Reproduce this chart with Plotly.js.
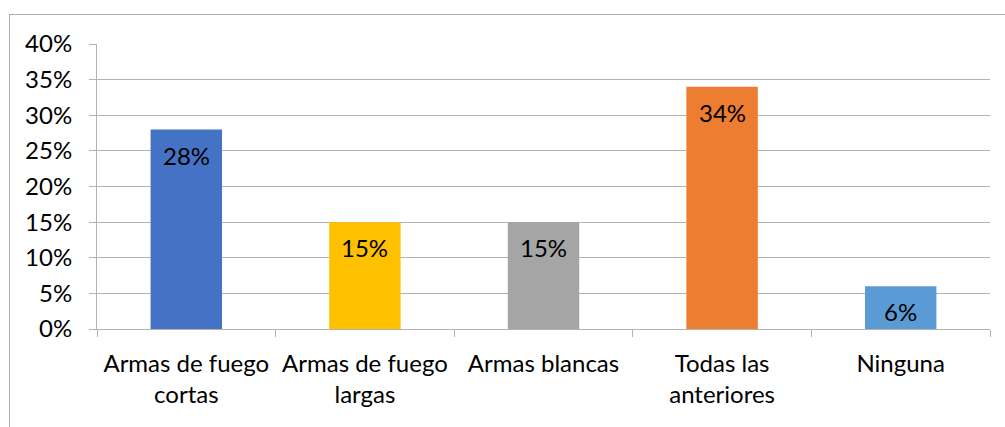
<!DOCTYPE html>
<html>
<head>
<meta charset="utf-8">
<script src="https://cdn.plot.ly/plotly-3.0.1.min.js"></script>
<style>
html,body{margin:0;padding:0;background:#fff;}
#wrap{position:relative;width:1005px;height:427px;overflow:hidden;}
#frame{position:absolute;left:9px;top:14px;width:1100px;height:500px;border-left:1px solid #b0b0b0;border-top:1px solid #b0b0b0;pointer-events:none;}
#chart{position:absolute;left:0;top:0;width:1005px;height:427px;}
</style>
</head>
<body>
<div id="wrap"><div id="chart"></div><div id="frame"></div></div>
<script>
const categories = ["Armas de fuego<br>cortas", "Armas de fuego<br>largas", "Armas blancas", "Todas las<br>anteriores", "Ninguna"];
const values = [28, 15, 15, 34, 6];
const labels = ["28%", "15%", "15%", "34%", "6%"];
const colors = ["#4472C4", "#FFC000", "#A5A5A5", "#ED7D31", "#5B9BD5"];
const yTicks = [0, 5, 10, 15, 20, 25, 30, 35, 40];

const FONT = "Lato, 'Noto Sans', sans-serif";

const trace = {
  type: "bar",
  x: categories,
  y: values,
  marker: {color: colors},
  width: 0.4,
  hoverinfo: "skip"
};

const annotations = categories.map((c, i) => ({
  x: c, y: values[i], xref: "x", yref: "y",
  text: labels[i], showarrow: false,
  yanchor: "top", yshift: -9,
  font: {family: FONT, size: 24, color: "#000"}
}));

const layout = {
  width: 1005, height: 427,
  margin: {l: 97, r: 15, t: 44, b: 98},
  paper_bgcolor: "rgba(0,0,0,0)",
  plot_bgcolor: "#fff",
  showlegend: false,
  bargap: 0.6,
  font: {family: FONT, size: 24, color: "#000"},
  xaxis: {
    type: "category",
    tickson: "boundaries",
    ticks: "outside", ticklen: 7, tickcolor: "#b3b3b3", tickwidth: 1,
    showline: true, linecolor: "#b3b3b3", linewidth: 1,
    showgrid: false,
    tickfont: {family: FONT, size: 24, color: "#000"},
    ticklabelstandoff: 13,
    tickangle: 0
  },
  yaxis: {
    range: [0, 40],
    tickvals: yTicks,
    ticktext: yTicks.map(v => v + "%"),
    ticks: "outside", ticklen: 7, tickcolor: "#b3b3b3", tickwidth: 1,
    showline: true, linecolor: "#b3b3b3", linewidth: 1,
    showgrid: true, gridcolor: "#b3b3b3", gridwidth: 1,
    zeroline: false,
    tickfont: {family: FONT, size: 24, color: "#000"},
    ticklabelstandoff: 12
  },
  annotations: annotations
};

Plotly.newPlot("chart", [trace], layout, {staticPlot: true, displayModeBar: false});
</script>
</body>
</html>
